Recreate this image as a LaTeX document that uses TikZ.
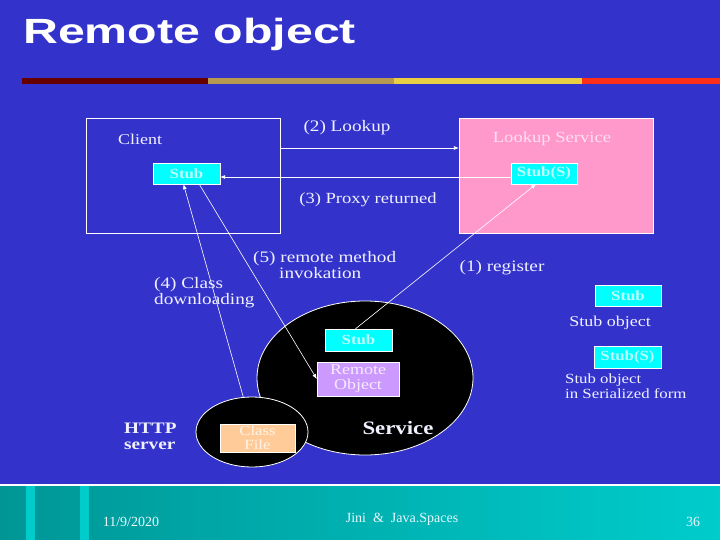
\documentclass[tikz,border=0pt]{standalone}
\usepackage{fontspec}
\setmainfont{Liberation Serif}
\newfontfamily\slidefont[FakeStretch=1.2]{Liberation Serif}
\newfontfamily\titlefont[FakeStretch=1.38]{Liberation Sans}
\usetikzlibrary{arrows.meta,shapes.geometric}
\definecolor{slideblue}{RGB}{51,51,204}
\definecolor{stubcyan}{RGB}{0,255,255}
\definecolor{lookuppink}{RGB}{255,153,204}
\definecolor{roblue}{RGB}{204,153,255}
\definecolor{filepeach}{RGB}{255,204,153}
\definecolor{footdark}{RGB}{0,150,150}
\definecolor{footlight}{RGB}{0,204,204}
\tikzset{
  panel/.style  = {draw=white, thin, inner sep=0pt},
  stubbox/.style= {draw=white, thin, fill=stubcyan, inner sep=0pt,
                   text=white!75!stubcyan, font=\slidefont\bfseries\fontsize{14}{16}\selectfont,
                   minimum height=21pt},
  blob/.style   = {draw=white, thick, fill=black, ellipse, inner sep=0pt},
  lbl/.style    = {text=white!94!blue, font=\slidefont\fontsize{16}{16}\selectfont,
                   align=left, inner sep=0pt},
  e/.style      = {-{Latex[length=5pt,width=4pt]}, white, semithick},
  foot/.style   = {text=white!92!cyan, font=\fontsize{14}{15}\selectfont, inner sep=0pt}
}
\begin{document}
\begin{tikzpicture}[x=1pt,y=-1pt]
  \useasboundingbox (0,0) rectangle (720,540);
  \fill[slideblue] (0,0) rectangle (720,540);
  % title and bar
  \node[anchor=west, text=white, inner sep=0pt,
        font=\titlefont\bfseries\fontsize{35}{38}\selectfont] (title) at (23,34) {Remote object};
  \fill[red!40!black]       (22,78) rectangle (208,84);
  \fill[brown!60!olive!80]  (208,78) rectangle (394,84);
  \fill[yellow!60!brown!90] (394,78) rectangle (582,84);
  \fill[red!80!orange!90]   (582,78) rectangle (720,84);
  % client and lookup service
  \node[panel, minimum width=194pt, minimum height=115pt] (client) at (183,175.5) {};
  \node[panel, fill=lookuppink, minimum width=194pt, minimum height=115pt] (lookup) at (556,175.5) {};
  \node[lbl, font=\slidefont\fontsize{15}{15}\selectfont] (clientlbl) at (140,139) {Client};
  \node[lbl, text=white!70!lookuppink, font=\slidefont\fontsize{15.5}{15}\selectfont] (lookuplbl) at (552,139) {Lookup Service};
  \node[stubbox, minimum width=67pt] (cstub) at (186.5,173.5) {Stub};
  \node[stubbox, minimum width=66pt] (stubs) at (544,173.5) {Stub(S)};
  % service and http server
  \node[blob, minimum width=216pt, minimum height=154pt] (service) at (365,378) {};
  \node[blob, minimum width=112pt, minimum height=70pt] (http) at (252,432) {};
  \node[stubbox, minimum width=67pt, minimum height=22pt] (sstub) at (358.5,340) {Stub};
  \node[draw=white, thin, fill=roblue, minimum width=82pt, minimum height=34pt, inner sep=0pt,
        text=white!80!roblue, align=center, font=\slidefont\fontsize{15}{15}\selectfont] (rob) at (358,379) {Remote\\Object};
  \node[draw=white, thin, fill=filepeach, minimum width=75pt, minimum height=28pt, inner sep=0pt,
        text=white!75!filepeach, align=center, font=\slidefont\fontsize{14}{14}\selectfont] (cfile) at (257.5,438) {Class\\File};
  \node[lbl, font=\slidefont\bfseries\fontsize{19}{19}\selectfont] (servicelbl) at (398,428) {Service};
  \node[lbl, anchor=west, font=\slidefont\bfseries\fontsize{16}{16}\selectfont] (httplbl) at (124,436) {HTTP\\server};
  % connectors
  \draw[e] ([yshift=27.5pt]client.east) -- ([yshift=27.5pt]lookup.west);
  \draw[e] ([yshift=-3.5pt]stubs.west) -- ([yshift=-3.5pt]cstub.east);
  \draw[e] (http.104) -- ([xshift=-3pt]cstub.south);
  \draw[e] (cstub.-40) -- (rob.west);
  \draw[e] ([xshift=-3pt]sstub.north) -- ([xshift=-8pt]stubs.south);
  \node[lbl] (lookuptxt) at (347,128) {(2) Lookup};
  \node[lbl, font=\slidefont\fontsize{15.5}{16}\selectfont] (proxytxt) at (368,200) {(3) Proxy returned};
  \node[lbl, anchor=west] (rmitxt) at (253,265) {(5) remote method\\\hspace{26pt}invokation};
  \node[lbl, anchor=west] (classtxt) at (154,293) {(4) Class\\downloading};
  \node[lbl] (registertxt) at (502,268) {(1) register};
  % legend
  \node[stubbox, minimum width=66pt] (legstub) at (628,295.5) {Stub};
  \node[lbl, font=\slidefont\fontsize{15}{15}\selectfont] (legstubtxt) at (610,323) {Stub object};
  \node[stubbox, minimum width=67pt, minimum height=22pt] (legstubs) at (627.5,357) {Stub(S)};
  \node[lbl, anchor=west, font=\slidefont\fontsize{14}{15}\selectfont] (legstubstxt) at (565,386) {Stub object\\in Serialized form};
  % footer
  \shade[left color=footdark, right color=footlight] (0,486) rectangle (720,540);
  \fill[footlight] (26,486) rectangle (35,540);
  \fill[footlight] (80,486) rectangle (89,540);
  \draw[white, line width=1.2pt] (0,485) -- (720,485);
  \node[foot] (date) at (131,522) {11/9/2020};
  \node[foot] (topic) at (402,519) {Jini\ \ \&\ \ Java.Spaces};
  \node[foot] (page) at (693,522) {36};
\end{tikzpicture}
\end{document}
